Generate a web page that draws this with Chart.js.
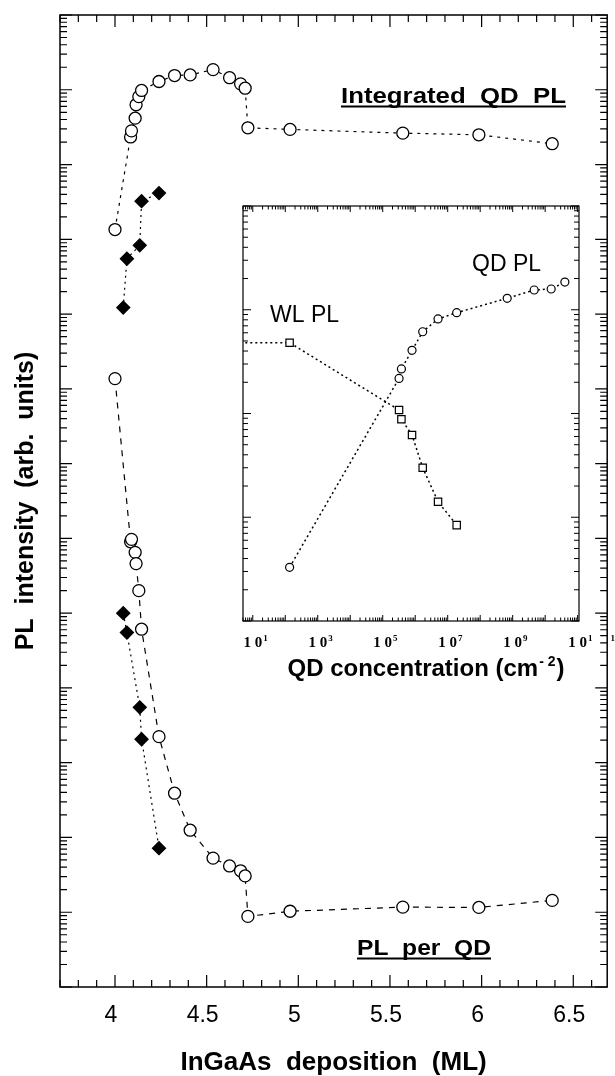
<!DOCTYPE html>
<html>
<head>
<meta charset="utf-8">
<script src="https://cdn.jsdelivr.net/npm/chart.js@4/dist/chart.umd.min.js"></script>
<style>
  html, body { margin: 0; padding: 0; background: #fff; }
  #wrap { position: relative; width: 615px; height: 1076px; }
  #mainChart { position: absolute; left: 0; top: 0; }
  #insetChart { position: absolute; left: 230px; top: 195px; }
</style>
</head>
<body>
<div id="wrap">
  <canvas id="mainChart" width="615" height="1076"></canvas>
  <canvas id="insetChart" width="385" height="500"></canvas>
</div>
<script>
// main panel: InGaAs deposition (ML) vs PL intensity
var depositionML = [4.00, 4.085, 4.09, 4.11, 4.115, 4.13, 4.145, 4.24, 4.325, 4.41,
                    4.535, 4.625, 4.685, 4.71, 4.725, 4.955, 5.57, 5.985, 6.385];
var integratedQD = [1.35e10, 2.34e11, 2.82e11, 4.17e11, 6.3e11, 8.1e11, 9.8e11, 1.29e12, 1.55e12, 1.58e12,
                    1.86e12, 1.45e12, 1.2e12, 1.05e12, 3.1e11, 2.95e11, 2.63e11, 2.5e11, 1.9e11];
var perQD = [1.37e8, 9.0e5, 9.7e5, 6.5e5, 4.6e5, 2.0e5, 6.1e4, 2230, 391, 125,
             52.9, 41.6, 35.8, 30.6, 8.8, 10.3, 11.7, 11.6, 14.4];
var diamondML = [4.045, 4.065, 4.135, 4.145, 4.24];
var integratedDiamond = [1.22e9, 5.5e9, 8.3e9, 3.24e10, 4.15e10];
var perQDDiamond = [1.0e5, 5.5e4, 5.5e3, 2060, 72];
var xTickLabels = [4, 4.5, 5, 5.5, 6, 6.5];

// inset: QD concentration (cm^-2) vs PL
var qdConc = [136, 3.18e5, 3.76e5, 7.98e5, 1.70e6, 5.04e6, 1.89e7, 6.78e8, 4.59e9, 1.53e10, 4.04e10];
var qdPL = [3.29, 218, 269, 406, 614, 815, 937, 1290, 1550, 1585, 1850];
var wlConc = [1, 136, 3.18e5, 3.76e5, 7.98e5, 1.70e6, 5.04e6, 1.89e7];
var wlPL = [481, 481, 108, 88, 62, 30, 14.1, 8.4];
var insetTickExponents = [1, 3, 5, 7, 9, 11];

var SANS = '"Liberation Sans", Arial, sans-serif';
var SERIF = '"Liberation Serif", "Times New Roman", serif';

Chart.defaults.font.family = SANS;
Chart.defaults.color = '#000';

function toXY(xs, ys) {
    return xs.map(function (x, i) { return { x: x, y: ys[i] }; });
}

function logTickList(lo, hi) {
    var out = [];
    for (var n = Math.floor(Math.log10(lo)); n <= Math.ceil(Math.log10(hi)); n++) {
        for (var k = 1; k <= 9; k++) {
            var v = k * Math.pow(10, n);
            if (v >= lo * 0.999 && v <= hi * 1.001) out.push({ v: v, major: k === 1 });
        }
    }
    return out;
}

function linTickList() {
    var out = [];
    for (var i = 37; i <= 66; i++) out.push({ v: i / 10, major: i % 5 === 0 });
    return out;
}

function drawBox(chart, xTicks, yTicks, s) {
    var ctx = chart.ctx, a = chart.chartArea;
    var xs = chart.scales.x, ys = chart.scales.y;
    ctx.save();
    ctx.strokeStyle = '#000';
    ctx.lineWidth = s.frame;
    ctx.strokeRect(a.left, a.top, a.right - a.left, a.bottom - a.top);
    ctx.lineWidth = s.tick;
    ctx.beginPath();
    xTicks.forEach(function (t) {
        var px = xs.getPixelForValue(t.v), l = t.major ? s.xMajor : s.xMinor;
        ctx.moveTo(px, a.bottom); ctx.lineTo(px, a.bottom - l);
        ctx.moveTo(px, a.top); ctx.lineTo(px, a.top + l);
    });
    yTicks.forEach(function (t) {
        var py = ys.getPixelForValue(t.v), l = t.major ? s.yMajor : s.yMinor;
        ctx.moveTo(a.left, py); ctx.lineTo(a.left + l, py);
        ctx.moveTo(a.right, py); ctx.lineTo(a.right - l, py);
    });
    ctx.stroke();
    ctx.restore();
}

// bold underlined label, stretched to the width it has in the figure
function underlinedLabel(ctx, text, left, baseline, width) {
    ctx.save();
    ctx.font = 'bold 22px ' + SANS;
    ctx.fillStyle = '#000';
    var w = ctx.measureText(text).width;
    ctx.translate(left, baseline);
    ctx.scale(width / w, 1);
    ctx.textBaseline = 'alphabetic';
    ctx.fillText(text, 0, 0);
    ctx.restore();
    ctx.fillRect(left, baseline + 2.5, width, 2);
}

var mainDecor = {
    id: 'mainDecor',
    afterDraw: function (chart) {
        drawBox(chart, linTickList(), logTickList(1, 1e13),
            { frame: 1.5, tick: 1.2, xMajor: 12, xMinor: 7, yMajor: 12, yMinor: 7 });
        var ctx = chart.ctx;
        ctx.save();
        ctx.fillStyle = '#000';
        underlinedLabel(ctx, 'Integrated  QD  PL', 341, 103, 225);
        underlinedLabel(ctx, 'PL  per  QD', 357, 955, 134);
        ctx.restore();
    }
};

function pointSet(data, dash, style, radius, fill) {
    return {
        data: data,
        showLine: true,
        borderColor: '#000',
        borderWidth: 1.2,
        borderDash: dash,
        pointStyle: style,
        pointRadius: radius,
        pointBackgroundColor: fill,
        pointBorderColor: '#000',
        pointBorderWidth: 1.3,
        clip: 0
    };
}

new Chart(document.getElementById('mainChart'), {
    type: 'scatter',
    data: {
        datasets: [
            pointSet(toXY(depositionML, integratedQD), [3, 5], 'circle', 6, '#fff'),
            pointSet(toXY(diamondML, integratedDiamond), [2, 4], 'rectRot', 6.5, '#000'),
            pointSet(toXY(depositionML, perQD), [6, 6], 'circle', 6, '#fff'),
            pointSet(toXY(diamondML, perQDDiamond), [2, 4], 'rectRot', 6.5, '#000')
        ]
    },
    options: {
        responsive: false,
        animation: false,
        events: [],
        layout: { padding: { top: 15, right: 1, left: 0, bottom: 0 } },
        plugins: { legend: { display: false }, tooltip: { enabled: false } },
        scales: {
            x: {
                type: 'linear',
                min: 3.7,
                max: 6.685,
                grid: { display: false, drawTicks: false },
                border: { display: false },
                afterBuildTicks: function (s) {
                    s.ticks = xTickLabels.map(function (v) { return { value: v }; });
                },
                afterFit: function (s) { s.height = 89; },
                ticks: {
                    color: '#000',
                    font: { size: 23 },
                    padding: 15,
                    labelOffset: -4,
                    maxRotation: 0,
                    autoSkip: false,
                    callback: function (v) { return String(v); }
                },
                title: {
                    display: true,
                    text: 'InGaAs  deposition  (ML)',
                    color: '#000',
                    font: { size: 26, weight: 'bold', lineHeight: 1 },
                    padding: 0
                }
            },
            y: {
                type: 'logarithmic',
                min: 1,
                max: 1e13,
                grid: { display: false, drawTicks: false },
                border: { display: false },
                ticks: { display: false },
                afterFit: function (s) { s.width = 60; },
                title: {
                    display: true,
                    text: 'PL  intensity  (arb.  units)',
                    color: '#000',
                    font: { size: 25, weight: 'bold', lineHeight: 1 },
                    padding: { top: 14, bottom: 0 }
                }
            }
        }
    },
    plugins: [mainDecor]
});

var insetDecor = {
    id: 'insetDecor',
    afterDraw: function (chart) {
        drawBox(chart, logTickList(5, 1.1e11), logTickList(1, 1e4),
            { frame: 1.2, tick: 1, xMajor: 6, xMinor: 3.5, yMajor: 8, yMinor: 5 });
        var ctx = chart.ctx, a = chart.chartArea, xs = chart.scales.x;
        ctx.save();
        ctx.fillStyle = '#000';
        ctx.textBaseline = 'alphabetic';

        // 10^n tick labels
        insetTickExponents.forEach(function (e) {
            var px = xs.getPixelForValue(Math.pow(10, e));
            ctx.font = 'bold 15px ' + SERIF;
            ctx.textAlign = 'center';
            ctx.fillText('1 0', px, a.bottom + 26);
            var half = ctx.measureText('1 0').width / 2;
            ctx.font = 'bold 9px ' + SERIF;
            ctx.textAlign = 'left';
            ctx.fillText(String(e).split('').join('\u2003\u2003'), px + half + 1, a.bottom + 20);
        });

        // axis title with superscript
        var t1 = 'QD concentration (cm', sup = '- 2', t2 = ')';
        ctx.font = 'bold 24px ' + SANS;
        var w1 = ctx.measureText(t1).width, w3 = ctx.measureText(t2).width;
        ctx.font = 'bold 14px ' + SANS;
        var w2 = ctx.measureText(sup).width + 2;
        var x0 = 196 - (w1 + w2 + w3) / 2, yb = a.bottom + 55;
        ctx.textAlign = 'left';
        ctx.font = 'bold 24px ' + SANS;
        ctx.fillText(t1, x0, yb);
        ctx.font = 'bold 14px ' + SANS;
        ctx.fillText(sup, x0 + w1 + 1, yb - 10);
        ctx.font = 'bold 24px ' + SANS;
        ctx.fillText(t2, x0 + w1 + w2, yb);

        // series labels
        ctx.font = '23px ' + SANS;
        ctx.fillText('QD PL', 242, 76);
        ctx.fillText('WL PL', 40, 127);
        ctx.restore();
    }
};

function insetSet(data, style, radius) {
    return {
        data: data,
        showLine: true,
        borderColor: '#000',
        borderWidth: 1.5,
        borderDash: [2, 3],
        pointStyle: style,
        pointRadius: radius,
        pointBackgroundColor: '#fff',
        pointBorderColor: '#000',
        pointBorderWidth: 1.2,
        clip: 0
    };
}

new Chart(document.getElementById('insetChart'), {
    type: 'scatter',
    data: {
        datasets: [
            insetSet(toXY(wlConc, wlPL), 'rect', 5.2),
            insetSet(toXY(qdConc, qdPL), 'circle', 4)
        ]
    },
    options: {
        responsive: false,
        animation: false,
        events: [],
        layout: { padding: { left: 13, top: 11, right: 36, bottom: 74 } },
        plugins: { legend: { display: false }, tooltip: { enabled: false } },
        scales: {
            x: { type: 'logarithmic', min: 5, max: 1.1e11, display: false },
            y: { type: 'logarithmic', min: 1, max: 1e4, display: false }
        }
    },
    plugins: [insetDecor]
});
</script>
</body>
</html>
